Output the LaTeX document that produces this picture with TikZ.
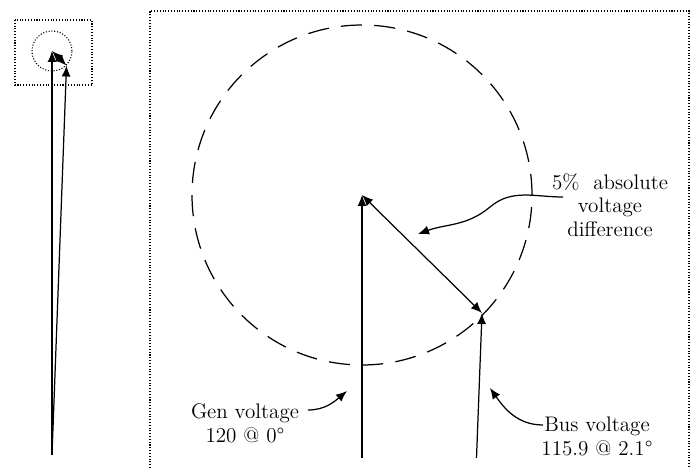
\documentclass[tikz,border=0pt]{standalone}
\usetikzlibrary{arrows.meta,positioning,calc}

\begin{document}
\begin{tikzpicture}[font=\fontsize{12}{13.5}\selectfont,
   frame/.style={densely dotted,line width=0.6pt},
   tol/.style={dash pattern=on 12pt off 7pt,line width=0.7pt},
   phasor/.style={line width=0.7pt,-{Latex[length=2.2mm,width=1.8mm]}},
   gap/.style={line width=0.7pt,{Latex[length=2.2mm,width=1.8mm]}-{Latex[length=2.2mm,width=1.8mm]}},
   callout/.style={line width=0.7pt,-{Latex[length=2.2mm,width=1.8mm]}},
   lbl/.style={align=center,inner sep=1pt}]
  \useasboundingbox (0,0) rectangle (13.96,-9.36);
  % inset with the whole phasors
  \draw[frame] (0.30,-0.40) rectangle (1.84,-1.70);
  \draw[frame] (1.04,-1.02) circle (0.40);
  \coordinate (o) at (1.04,-9.10);
  \coordinate (g) at (1.04,-1.02);
  \coordinate (b) at (1.33,-1.31);
  \draw[phasor] (o)--(g);
  \draw[phasor] (o)--(b);
  \draw[gap] (g)--(b);
  % close-up of the tips
  \draw[frame] (3.00,-9.36) |- (13.78,-0.22) -- (13.78,-9.36);
  \draw[tol] (7.24,-3.90) circle (3.40);
  \coordinate (G0) at (7.24,-9.16);
  \coordinate (G)  at (7.24,-3.90);
  \coordinate (B0) at (9.53,-9.16);
  \coordinate (B)  at (9.64,-6.26);
  \draw[phasor] (G0)--(G);
  \draw[phasor] (B0)--(B);
  \draw[gap] (G)--(B);
  \node[lbl] (diff) at (12.20,-4.10) {5\%\ \ absolute\\voltage\\difference};
  \node[lbl] (gen)  at (4.90,-8.47)  {Gen voltage\\120 @ 0\textdegree};
  \node[lbl] (bus)  at (11.94,-8.73) {Bus voltage\\115.9 @ 2.1\textdegree};
  \coordinate (dtip) at (8.36,-4.68);
  \coordinate (gtip) at (6.94,-7.82);
  \coordinate (btip) at (9.80,-7.76);
  \draw[callout] ($(diff.center)+(-0.94,0.16)$) to[out=180,in=40] (9.80,-4.14) to[out=220,in=20] (dtip);
  \draw[callout] ($(gen.center)+(1.26,0.27)$) to[out=0,in=220] (gtip);
  \draw[callout] ($(bus.center)+(-1.08,0.23)$) to[out=180,in=-55] (btip);
\end{tikzpicture}
\end{document}
